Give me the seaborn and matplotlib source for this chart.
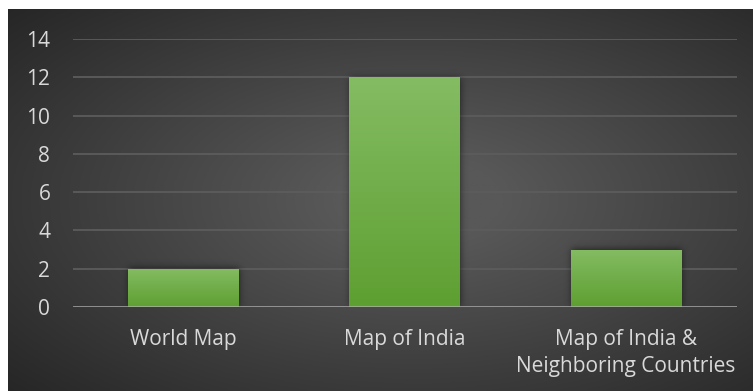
import numpy as np
import pandas as pd
import matplotlib
matplotlib.use("Agg")
import matplotlib.pyplot as plt
import seaborn as sns
from matplotlib.colors import LinearSegmentedColormap

categories = ["World Map", "Map of India", "Map of India &\nNeighboring Countries"]
counts = [2, 12, 3]
y_ticks = [0, 2, 4, 6, 8, 10, 12, 14]

sns.set_theme(style="dark")
plt.rcParams["font.family"] = ["Open Sans", "DejaVu Sans"]

W, H = 753, 391
fig = plt.figure(figsize=(W / 100, H / 100), dpi=100, facecolor="white")

# dark backdrop with a soft radial highlight
bg = fig.add_axes([8 / W, 0, (W - 8) / W, (H - 9) / H])
bg.set_axis_off()
yy, xx = np.mgrid[0:1:300j, 0:1:600j]
r = np.sqrt(((xx - 0.55) / 0.75) ** 2 + ((yy - 0.5) / 0.75) ** 2)
shade = np.clip(1 - r, 0, 1)
bg_cmap = LinearSegmentedColormap.from_list("bgc", ["#262626", "#585858"])
bg.imshow(shade, cmap=bg_cmap, aspect="auto", extent=[0, 1, 0, 1], vmin=0, vmax=0.85)
bg.set_xlim(0, 1)
bg.set_ylim(0, 1)

# plotting area
left, right = 72.5, 736.7
top, bottom = 39, 307
ax = fig.add_axes([left / W, (H - bottom) / H, (right - left) / W, (bottom - top) / H])
ax.patch.set_alpha(0)

df = pd.DataFrame({"category": categories, "count": counts})
sns.barplot(data=df, x="category", y="count", ax=ax, width=0.5,
            color="#6aad40", saturation=1, linewidth=0, zorder=3)

ymax = 14
xlo, xhi = -0.5, len(categories) - 0.5
ax.set_ylim(0, ymax)
ax.set_xlim(xlo, xhi)
ax.set_yticks(y_ticks)
ax.set_xlabel("")
ax.set_ylabel("")
for s in ax.spines.values():
    s.set_visible(False)
ax.grid(False)
for t in y_ticks[1:]:
    ax.axhline(t, color="#5c5c5c", lw=1.3, zorder=1)
ax.axhline(0, color="#b0b0b0", lw=2, alpha=0.8, zorder=6)

ax.tick_params(axis="y", length=0, pad=16, labelsize=15, labelcolor="#d9d9d9")
ax.tick_params(axis="x", length=0, pad=15.5, labelsize=15, labelcolor="#d9d9d9")
for lab in ax.get_xticklabels():
    lab.set_linespacing(1.38)

# soft drop shadow: blurred mask of the bars, one pixel per cell
nx, ny = int(right - left), int(bottom - top)
px = np.linspace(xlo, xhi, nx)
py = np.linspace(0, ymax, ny)
mask = np.zeros((ny, nx))
patches = list(ax.patches)
for p in patches:
    inx = (px >= p.get_x()) & (px <= p.get_x() + p.get_width())
    iny = py <= p.get_height()
    mask[np.ix_(iny, inx)] = 1.0
sigma = 3.5
k = np.arange(-12, 13)
kern = np.exp(-0.5 * (k / sigma) ** 2)
kern /= kern.sum()
blur = np.apply_along_axis(lambda v: np.convolve(v, kern, mode="same"), 1, mask)
blur = np.apply_along_axis(lambda v: np.convolve(v, kern, mode="same"), 0, blur)
shadow = np.zeros((ny, nx, 4))
shadow[..., 3] = np.clip(blur * 0.55, 0, 1)
ax.imshow(shadow, aspect="auto", origin="lower", extent=[xlo, xhi, 0, ymax],
          zorder=2, interpolation="bilinear")

# vertical gradient fill for each bar
bar_cmap = LinearSegmentedColormap.from_list("barc", ["#5e9f31", "#84bc63"])
grad = np.linspace(0, 1, 256).reshape(-1, 1)
for p in patches:
    x0, y0 = p.get_x(), p.get_y()
    w, h = p.get_width(), p.get_height()
    im = ax.imshow(grad, cmap=bar_cmap, aspect="auto", origin="lower",
                   extent=[x0, x0 + w, y0, y0 + h], zorder=4)
    im.set_clip_path(p)
    p.set_zorder(3)

ax.set_xlim(xlo, xhi)
ax.set_ylim(0, ymax)

fig.savefig("out.png", dpi=100, facecolor="white")
